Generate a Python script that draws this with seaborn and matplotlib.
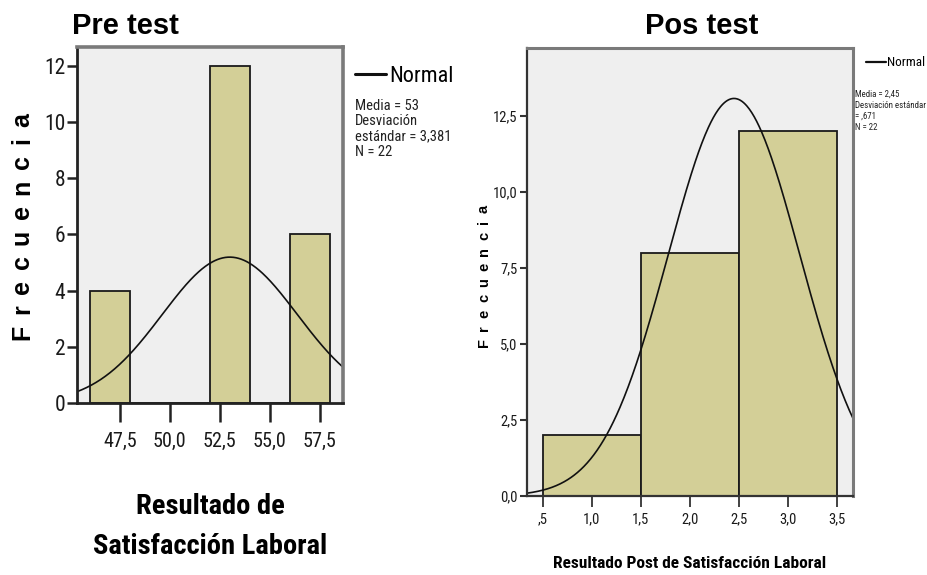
import numpy as np
import pandas as pd
import matplotlib
matplotlib.use("Agg")
import matplotlib.pyplot as plt
import seaborn as sns
from matplotlib import font_manager

# ---------------- data ----------------
pre_centers = [47, 53, 57]
pre_counts = [4, 12, 6]
pre_bin_edges = [46, 48, 50, 52, 54, 56, 58]
pre_mean, pre_sd, pre_n = 53.0, 3.381, 22
pre_xticks = [47.5, 50.0, 52.5, 55.0, 57.5]
pre_xticklabels = ["47,5", "50,0", "52,5", "55,0", "57,5"]
pre_yticks = [0, 2, 4, 6, 8, 10, 12]
pre_yticklabels = ["0", "2", "4", "6", "8", "10", "12"]
pre_stats = ["Media = 53", "Desviación", "estándar = 3,381", "N = 22"]

pos_centers = [1, 2, 3]
pos_counts = [2, 8, 12]
pos_bin_edges = [0.5, 1.5, 2.5, 3.5]
pos_mean, pos_sd, pos_n = 2.45, 0.671, 22
pos_xticks = [0.5, 1.0, 1.5, 2.0, 2.5, 3.0, 3.5]
pos_xticklabels = [",5", "1,0", "1,5", "2,0", "2,5", "3,0", "3,5"]
pos_yticks = [0.0, 2.5, 5.0, 7.5, 10.0, 12.5]
pos_yticklabels = ["0,0", "2,5", "5,0", "7,5", "10,0", "12,5"]
pos_stats = ["Media = 2,45", "Desviación estándar", "= ,671", "N = 22"]

# ---------------- style ----------------
sns.set_style("white")
available = {f.name for f in font_manager.fontManager.ttflist}
narrow = "Liberation Sans"
for cand in ["Liberation Sans Narrow", "DejaVu Sans Condensed", "Roboto Condensed",
             "Open Sans Condensed", "Liberation Sans"]:
    if cand in available:
        narrow = cand
        break
bold_sans = "Liberation Sans" if "Liberation Sans" in available else "DejaVu Sans"
plt.rcParams["font.family"] = [narrow, "DejaVu Sans"]
plt.rcParams["text.color"] = "black"
plt.rcParams["xtick.color"] = "#222222"
plt.rcParams["ytick.color"] = "#222222"
plt.rcParams["xtick.labelcolor"] = "#1a1a1a"
plt.rcParams["ytick.labelcolor"] = "#1a1a1a"

BAR = "#D3CF97"
BG = "#EFEFEF"
SPINE_GREY = "#7A7A7A"

W, H = 927, 575
fig = plt.figure(figsize=(W / 100, H / 100), dpi=100)


def px_axes(x0, y0, x1, y1):
    """axes from pixel box (image coords, y down)"""
    return fig.add_axes([x0 / W, 1 - y1 / H, (x1 - x0) / W, (y1 - y0) / H])


def draw_panel(ax, centers, counts, edges, mean, sd, n, xlim, ylim):
    ax.set_facecolor(BG)
    sns.histplot(x=centers, weights=counts, bins=edges, ax=ax, color=BAR, alpha=1,
                 edgecolor="#1a1a1a", linewidth=1.3, stat="count")
    binw = edges[1] - edges[0]
    xs = np.linspace(xlim[0], xlim[1], 400)
    ys = n * binw * np.exp(-0.5 * ((xs - mean) / sd) ** 2) / (sd * np.sqrt(2 * np.pi))
    curve = pd.DataFrame({"x": xs, "y": ys})
    sns.lineplot(data=curve, x="x", y="y", ax=ax, color="#111111", linewidth=1.2,
                 label="Normal", legend=False)
    ax.set_xlim(*xlim)
    ax.set_ylim(*ylim)
    ax.set_xlabel("")
    ax.set_ylabel("")


# ---------- left panel (Pre test) ----------
axL = px_axes(77.3, 47, 343.3, 403)
draw_panel(axL, pre_centers, pre_counts, pre_bin_edges, pre_mean, pre_sd, pre_n,
           (45.37, 58.68), (0, 12.67))
axL.set_xticks(pre_xticks)
axL.set_xticklabels(pre_xticklabels, fontsize=14.5)
axL.set_yticks(pre_yticks)
axL.set_yticklabels(pre_yticklabels, fontsize=15.5)
axL.tick_params(axis="x", bottom=True, length=14, width=1.8, pad=7, color="#222222")
axL.tick_params(axis="y", left=True, length=7, width=1.8, pad=1.5, color="#222222")
for s in ["left", "bottom"]:
    axL.spines[s].set_color("#222222")
    axL.spines[s].set_linewidth(2)
for s in ["top", "right"]:
    axL.spines[s].set_color(SPINE_GREY)
    axL.spines[s].set_linewidth(2.6)

# ---------- right panel (Pos test) ----------
axR = px_axes(526.7, 47.7, 853.3, 496)
draw_panel(axR, pos_centers, pos_counts, pos_bin_edges, pos_mean, pos_sd, pos_n,
           (0.337, 3.666), (0, 14.75))
axR.set_xticks(pos_xticks)
axR.set_xticklabels(pos_xticklabels, fontsize=10.5)
axR.set_yticks(pos_yticks)
axR.set_yticklabels(pos_yticklabels, fontsize=10.5)
axR.tick_params(axis="x", bottom=True, length=8, width=1.3, pad=4, color="#333333")
axR.tick_params(axis="y", left=True, length=5, width=1.5, pad=1.5, color="#333333")
for s in ["left", "bottom"]:
    axR.spines[s].set_color("#333333")
    axR.spines[s].set_linewidth(1.6)
for s in ["top", "right"]:
    axR.spines[s].set_color(SPINE_GREY)
    axR.spines[s].set_linewidth(2.2)

# ---------- legends ----------
hL, lL = axL.get_legend_handles_labels()
legL = axL.legend(hL, lL, loc="center left", bbox_to_anchor=(355 / W, 1 - 76 / H),
                  bbox_transform=fig.transFigure, frameon=False, fontsize=16,
                  handlelength=1.4, handletextpad=0.15, borderpad=0, borderaxespad=0)
for ln in legL.get_lines():
    ln.set_linewidth(2.2)
fig.text(355 / W, 1 - 99 / H, "\n".join(pre_stats), fontsize=10.5, va="top", ha="left",
         linespacing=1.12, color="#222222")

hR, lR = axR.get_legend_handles_labels()
legR = axR.legend(hR, lR, loc="center left", bbox_to_anchor=(866 / W, 1 - 63 / H),
                  bbox_transform=fig.transFigure, frameon=False, fontsize=9.5,
                  handlelength=1.5, handletextpad=0.1, borderpad=0, borderaxespad=0)
for ln in legR.get_lines():
    ln.set_linewidth(1.6)
fig.text(855 / W, 1 - 90 / H, "\n".join(pos_stats), fontsize=6.4, va="top", ha="left",
         linespacing=1.28, color="#222222")

# ---------- titles ----------
fig.text(125 / W, 1 - 26 / H, "Pre test", fontsize=21, fontweight="bold",
         family=bold_sans, ha="center", va="center", color="black")
fig.text(702 / W, 1 - 26 / H, "Pos test", fontsize=21, fontweight="bold",
         family=bold_sans, ha="center", va="center", color="black")

# ---------- x labels ----------
fig.text(210 / W, 1 - 506 / H, "Resultado de", fontsize=20.5, fontweight="bold",
         ha="center", va="center", color="black")
fig.text(210 / W, 1 - 547 / H, "Satisfacción Laboral", fontsize=20.5, fontweight="bold",
         ha="center", va="center", color="black")
fig.text(690 / W, 1 - 563 / H, "Resultado Post de Satisfacción Laboral", fontsize=12.5,
         fontweight="bold", ha="center", va="center", color="black")


# ---------- letter-spaced y labels ----------
def spaced_vertical(text, x_base_px, y_top_px, y_bot_px, size):
    renderer = fig.canvas.get_renderer()
    widths = []
    for ch in text:
        t = fig.text(0, 0, ch, fontsize=size, fontweight="bold", family=bold_sans)
        widths.append(t.get_window_extent(renderer).width)
        t.remove()
    span = y_bot_px - y_top_px
    gap = (span - sum(widths)) / (len(text) - 1)
    y = H - y_bot_px
    for ch, w in zip(text, widths):
        fig.text(x_base_px / W, y / H, ch, fontsize=size, fontweight="bold",
                 family=bold_sans, rotation=90, rotation_mode="anchor",
                 ha="left", va="baseline", color="black")
        y += w + gap


spaced_vertical("Frecuencia", 29, 113, 340, 18)
spaced_vertical("Frecuencia", 488, 205, 347, 10.5)

fig.savefig("out.png", dpi=100)
